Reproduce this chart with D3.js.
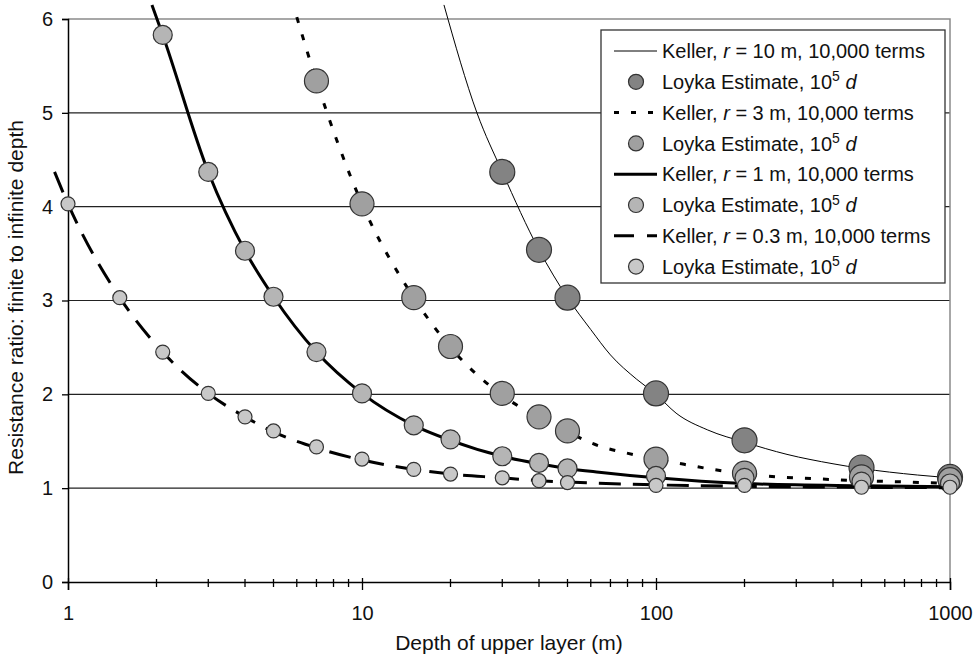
<!DOCTYPE html>
<html>
<head>
<meta charset="utf-8">
<script src="https://cdn.jsdelivr.net/npm/d3@7"></script>
<style>
  html, body { margin: 0; padding: 0; background: #fff; }
  svg { display: block; font-family: "Liberation Sans", Arial, Helvetica, sans-serif; }
</style>
</head>
<body>
<svg id="chart" width="980" height="660"></svg>
<script>
// ---- Data ----
const xTickValues = [1, 10, 100, 1000];
const yTickValues = [0, 1, 2, 3, 4, 5, 6];
const xTitle = "Depth of upper layer (m)";
const yTitle = "Resistance ratio: finite to infinite depth";

// Keller curves (depth m, ratio)
const keller10 = [[19,6.15],[24.6,5.0],[30,4.37],[40,3.54],[50,3.03],[60,2.69],[70,2.42],[86,2.16],[100,2.0],[117,1.80],[150,1.62],[200,1.49],[279,1.36],[400,1.26],[500,1.21],[775,1.14],[1000,1.11]];
const keller3  = [[6.0,6.02],[7,5.34],[10,4.03],[15,3.03],[20,2.5],[30,1.99],[40,1.75],[50,1.6],[64,1.45],[78,1.38],[100,1.31],[117,1.27],[156,1.20],[237,1.13],[350,1.10],[500,1.08],[640,1.07],[1000,1.05]];
const keller1  = [[1.93,6.15],[2.1,5.83],[3,4.37],[4,3.53],[5,3.04],[7,2.45],[10,2.01],[15,1.67],[20,1.51],[30,1.34],[40,1.26],[50,1.21],[64,1.17],[100,1.11],[200,1.05],[500,1.025],[1000,1.015]];
const keller03 = [[0.9,4.37],[1,4.03],[1.5,3.03],[2.1,2.45],[3,2.01],[4,1.76],[5,1.6],[7,1.43],[10,1.3],[15,1.2],[20,1.15],[30,1.11],[40,1.08],[50,1.065],[100,1.035],[200,1.02],[500,1.01],[1000,1.005]];

// Loyka estimates
const loykaDepth10 = [30,40,50,100,200,500,1000];
const loykaVal10   = [4.37,3.54,3.03,2.01,1.51,1.22,1.12];
const loykaDepth3  = [7,10,15,20,30,40,50,100,200,500,1000];
const loykaVal3    = [5.34,4.03,3.03,2.51,2.01,1.76,1.61,1.31,1.16,1.12,1.09];
const loykaDepth1  = [2.1,3,4,5,7,10,15,20,30,40,50,100,200,500,1000];
const loykaVal1    = [5.83,4.37,3.53,3.04,2.45,2.01,1.67,1.52,1.34,1.27,1.21,1.13,1.11,1.07,1.05];
const loykaDepth03 = [1,1.5,2.1,3,4,5,7,10,15,20,30,40,50,100,200,500,1000];
const loykaVal03   = [4.03,3.03,2.45,2.01,1.76,1.61,1.44,1.31,1.20,1.15,1.11,1.08,1.06,1.03,1.03,1.01,1.01];

// ---- Styles ----
const styles = {
  "10":  {width: 1,   dash: null,    fill: "#838383", r: 12.5},
  "3":   {width: 3,   dash: "6,12",  fill: "#a0a0a0", r: 12},
  "1":   {width: 3,   dash: null,    fill: "#b5b5b5", r: 9.5},
  "0.3": {width: 3,   dash: "22,12", fill: "#c8c8c8", r: 7}
};

const series = [
  {key: "10",  keller: keller10, depth: loykaDepth10, val: loykaVal10},
  {key: "3",   keller: keller3,  depth: loykaDepth3,  val: loykaVal3},
  {key: "1",   keller: keller1,  depth: loykaDepth1,  val: loykaVal1},
  {key: "0.3", keller: keller03, depth: loykaDepth03, val: loykaVal03}
];

const svg = d3.select("#chart");
const L = 68, R = 950, T = 19, B = 582;

const x = d3.scaleLog().domain([1, 1000]).range([L, R]);
const y = d3.scaleLinear().domain([0, 6]).range([B, T]);

// gridlines
svg.append("g").selectAll("line").data(yTickValues.filter(v => v > 0 && v < 6)).join("line")
  .attr("x1", L).attr("x2", R).attr("y1", d => y(d)).attr("y2", d => y(d))
  .attr("stroke", "#222").attr("stroke-width", 1.2);

// plot frame (top & right, gray)
svg.append("path")
  .attr("d", `M${L},${y(6)}H${x(1000)}V${B}`)
  .attr("fill", "none").attr("stroke", "#8a8a8a").attr("stroke-width", 1.5);

// Y axis
const yAxis = d3.axisLeft(y).tickValues(yTickValues).tickSize(6).tickPadding(9).tickFormat(d3.format("d"));
const gy = svg.append("g").attr("transform", `translate(${L},0)`).call(yAxis);
gy.select(".domain").attr("stroke", "#000").attr("stroke-width", 1.5);
gy.selectAll(".tick line").attr("stroke", "#000").attr("stroke-width", 1.3);
gy.selectAll(".tick text").attr("font-size", 20).attr("fill", "#111").attr("font-family", null);

// X axis
const xAxis = d3.axisBottom(x).tickValues(xTickValues).tickSize(8).tickFormat(d3.format("d"));
const gx = svg.append("g").attr("transform", `translate(0,${B})`).call(xAxis);
gx.select(".domain").attr("stroke", "#000").attr("stroke-width", 1.5);
gx.selectAll(".tick line").attr("y1", -4).attr("y2", 8).attr("stroke", "#000").attr("stroke-width", 1.3);
gx.selectAll(".tick text").attr("font-size", 20).attr("fill", "#111").attr("font-family", null)
  .attr("y", 38).attr("dy", 0);

// minor ticks
const minor = [];
[1, 10, 100].forEach(b => { for (let k = 2; k <= 9; k++) minor.push(b * k); });
svg.append("g").selectAll("line").data(minor).join("line")
  .attr("x1", d => x(d)).attr("x2", d => x(d))
  .attr("y1", B - 3).attr("y2", B + 5)
  .attr("stroke", "#000").attr("stroke-width", 1.3);

// axis titles
svg.append("text").attr("x", (L + R) / 2).attr("y", 650).attr("text-anchor", "middle")
  .attr("font-size", 21).attr("fill", "#111").text(xTitle);
svg.append("text").attr("transform", `translate(23,${(T + B) / 2 - 3}) rotate(-90)`)
  .attr("text-anchor", "middle").attr("font-size", 21).attr("fill", "#111").text(yTitle);

// series
const line = d3.line().x(d => x(d[0])).y(d => y(d[1])).curve(d3.curveMonotoneX);
series.forEach(s => {
  const st = styles[s.key];
  svg.append("path").datum(s.keller)
    .attr("d", line).attr("fill", "none").attr("stroke", "#000")
    .attr("stroke-width", st.width).attr("stroke-dasharray", st.dash);
  svg.append("g").selectAll("circle").data(s.depth.map((d, i) => [d, s.val[i]])).join("circle")
    .attr("cx", d => x(d[0])).attr("cy", d => y(d[1])).attr("r", st.r)
    .attr("fill", st.fill).attr("stroke", "#333").attr("stroke-width", 1.2);
});

// legend
const lg = svg.append("g");
lg.append("rect").attr("x", 601).attr("y", 30).attr("width", 344).attr("height", 253)
  .attr("fill", "#fff").attr("stroke", "#333").attr("stroke-width", 1.3);
const rowY0 = 51, rowStep = 30.8;
series.forEach((s, i) => {
  const st = styles[s.key];
  const yl = rowY0 + rowStep * 2 * i;
  const yp = yl + rowStep;
  lg.append("line").attr("x1", 614).attr("x2", 657).attr("y1", yl).attr("y2", yl)
    .attr("stroke", "#000").attr("stroke-width", st.width)
    .attr("stroke-dasharray", st.dash ? (s.key === "3" ? "5,12" : "20,13") : null);
  const t1 = lg.append("text").attr("x", 662).attr("y", yl).attr("dy", "0.36em")
    .attr("font-size", 20).attr("fill", "#111");
  t1.append("tspan").text("Keller, ");
  t1.append("tspan").attr("font-style", "italic").text("r");
  t1.append("tspan").text(` = ${s.key} m, 10,000 terms`);
  lg.append("circle").attr("cx", 636).attr("cy", yp).attr("r", 7.5)
    .attr("fill", st.fill).attr("stroke", "#333").attr("stroke-width", 1.2);
  const t2 = lg.append("text").attr("x", 662).attr("y", yp).attr("dy", "0.36em")
    .attr("font-size", 20).attr("fill", "#111");
  t2.append("tspan").text("Loyka Estimate, 10");
  t2.append("tspan").attr("font-size", 14).attr("dy", "-0.55em").text("5");
  t2.append("tspan").attr("dy", "0.38em").text(" ");
  t2.append("tspan").attr("font-style", "italic").text("d");
});
</script>
</body>
</html>
